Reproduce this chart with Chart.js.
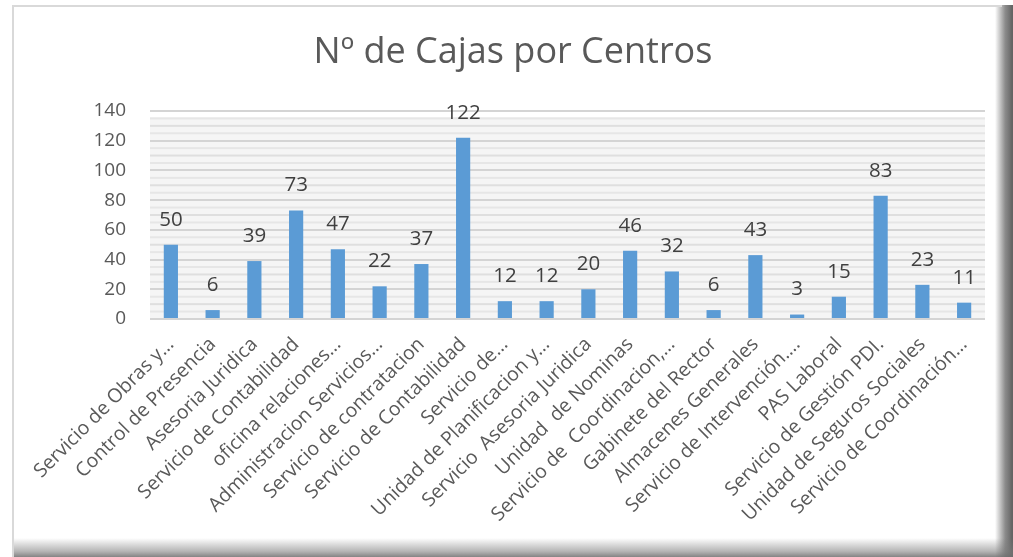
<!DOCTYPE html>
<html>
<head>
<meta charset="utf-8">
<script src="https://cdn.jsdelivr.net/npm/chart.js@4/dist/chart.umd.min.js"></script>
<style>
html,body{margin:0;padding:0;background:#fff;}
#wrap{position:absolute;left:0;top:0;width:1013px;height:557px;}
</style>
</head>
<body>
<div id="wrap"><canvas id="c" width="1013" height="557"></canvas></div>
<script>
const chartTitle = "Nº de Cajas por Centros";
const categories = [
  "Servicio de Obras y…",
  "Control de Presencia",
  "Asesoria Juridica",
  "Servicio de Contabilidad",
  "oficina relaciones…",
  "Administracion Servicios…",
  "Servicio de contratacion",
  "Servicio de Contabilidad",
  "Servicio de…",
  "Unidad de Planificacion y…",
  "Servicio  Asesoria Juridica",
  "Unidad  de Nominas",
  "Servicio de  Coordinacion,…",
  "Gabinete del Rector",
  "Almacenes Generales",
  "Servicio de Intervención.…",
  "PAS Laboral",
  "Servicio de Gestión PDI.",
  "Unidad de Seguros Sociales",
  "Servicio de Coordinación…"
];
const cajas = [50, 6, 39, 73, 47, 22, 37, 122, 12, 12, 20, 46, 32, 6, 43, 3, 15, 83, 23, 11];
const yTicks = [0, 20, 40, 60, 80, 100, 120, 140];

const FONT = "'Open Sans', 'DejaVu Sans', sans-serif";

const framePlugin = {
  id: 'frame',
  beforeDraw(chart) {
    const ctx = chart.ctx;
    const W = chart.width, H = chart.height;
    ctx.save();
    ctx.fillStyle = '#ffffff';
    ctx.fillRect(0, 0, W, H);
    // right shadow
    let g = ctx.createLinearGradient(995, 0, 1012, 0);
    g.addColorStop(0, 'rgba(110,110,110,0)');
    g.addColorStop(0.6, 'rgba(110,110,110,0.8)');
    g.addColorStop(1, 'rgba(100,100,100,1)');
    ctx.fillStyle = g;
    ctx.fillRect(995, 5, 18, H - 5);
    // bottom shadow
    g = ctx.createLinearGradient(0, 538, 0, 557);
    g.addColorStop(0, 'rgba(120,120,120,0)');
    g.addColorStop(0.7, 'rgba(120,120,120,0.55)');
    g.addColorStop(1, 'rgba(110,110,110,0.85)');
    ctx.fillStyle = g;
    ctx.fillRect(14, 538, 1000, 19);
    // left and top border
    ctx.fillStyle = '#d9d9d9';
    ctx.fillRect(12, 5, 2, H - 5);
    ctx.fillRect(12, 5, 990, 2);
    // title
    ctx.fillStyle = '#595959';
    ctx.font = "36px " + FONT;
    ctx.textAlign = 'center';
    ctx.textBaseline = 'middle';
    ctx.fillText(chartTitle, 513, 53);
    // plot background stripes
    const a = chart.chartArea;
    const ys = chart.scales.y;
    ctx.fillStyle = '#f5f5f5';
    ctx.fillRect(a.left, a.top + 6, a.right - a.left, a.bottom - a.top - 6);
    for (let v = 0; v <= 140; v += 5) {
      if (v % 20 === 0) continue;
      const y = ys.getPixelForValue(v);
      ctx.fillStyle = (v % 10 === 0) ? '#dfdfdf' : '#e6e6e6';
      ctx.fillRect(a.left, y - 1, a.right - a.left, 2);
    }
    ctx.restore();
  }
};

const valuePlugin = {
  id: 'values',
  afterDatasetsDraw(chart) {
    const ctx = chart.ctx;
    const meta = chart.getDatasetMeta(0);
    ctx.save();
    ctx.fillStyle = '#404040';
    ctx.font = "20.5px " + FONT;
    ctx.textAlign = 'center';
    ctx.textBaseline = 'middle';
    meta.data.forEach((bar, i) => {
      ctx.fillText(String(chart.data.datasets[0].data[i]), bar.x, bar.y - 25);
    });
    ctx.restore();
  }
};

new Chart(document.getElementById('c'), {
  type: 'bar',
  data: {
    labels: categories,
    datasets: [{
      data: cajas,
      backgroundColor: '#5B9BD5',
      borderWidth: 0,
      barPercentage: 0.34,
      categoryPercentage: 1.0
    }]
  },
  options: {
    responsive: false,
    animation: false,
    devicePixelRatio: 1,
    layout: { padding: { top: 111, left: 0, right: 28, bottom: 0 } },
    plugins: { legend: { display: false }, title: { display: false }, tooltip: { enabled: false } },
    scales: {
      x: {
        grid: { display: false, drawTicks: false },
        border: { display: false },
        ticks: {
          autoSkip: false, maxRotation: 45, minRotation: 45,
          color: '#595959', font: { family: FONT, size: 19.5 }, padding: 14
        },
        afterFit(scale) { scale.height = 557 - 319; }
      },
      y: {
        min: 0, max: 140,
        afterBuildTicks(scale) { scale.ticks = yTicks.map(v => ({ value: v })); },
        grid: { color: '#d4d4d4', lineWidth: 2, drawTicks: false },
        border: { display: false },
        ticks: { color: '#595959', font: { family: FONT, size: 19 }, padding: 24 },
        afterFit(scale) { scale.width = 150; }
      }
    }
  },
  plugins: [framePlugin, valuePlugin]
});
</script>
</body>
</html>
